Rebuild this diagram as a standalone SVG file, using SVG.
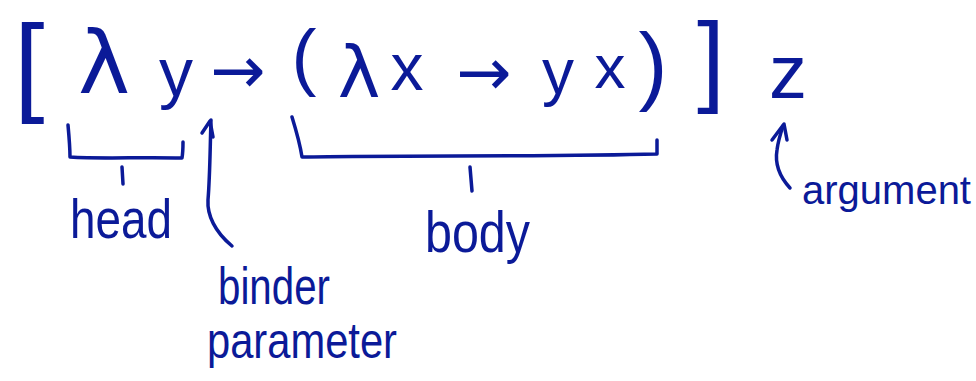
<svg xmlns="http://www.w3.org/2000/svg" width="976" height="381" viewBox="0 0 976 381">
  <style>
    .ink { fill: #0b1a98; font-family: "Liberation Sans", "DejaVu Sans", sans-serif; }
    .sym { fill: #0b1a98; font-family: "DejaVu Sans", "Liberation Sans", sans-serif; text-anchor: middle; }
    .stroke { fill: none; stroke: #0b1a98; stroke-width: 3.5; stroke-linecap: round; stroke-linejoin: round; }
  </style>
  <rect width="976" height="381" fill="#ffffff"/>

  <g id="formula">
    <text class="ink" x="14" y="101" font-size="110">[</text>
    <text class="sym" x="104" y="93" font-size="88">λ</text>
    <text class="ink" x="176" y="96" font-size="68" text-anchor="middle">y</text>
    <text class="sym" x="238" y="93" font-size="66">→</text>
    <text class="ink" x="304" y="82" font-size="75" text-anchor="middle">(</text>
    <text class="sym" x="359" y="97" font-size="72">λ</text>
    <text class="ink" x="407" y="90" font-size="66" text-anchor="middle">x</text>
    <text class="sym" x="484" y="95" font-size="66">→</text>
    <text class="ink" x="558" y="94" font-size="64" text-anchor="middle">y</text>
    <text class="ink" x="610" y="88" font-size="62" text-anchor="middle">x</text>
    <text class="ink" x="653" y="94" font-size="87" text-anchor="middle">)</text>
    <text class="ink" x="711" y="93" font-size="100" text-anchor="middle">]</text>
    <text class="ink" x="788" y="98" font-size="76" text-anchor="middle">z</text>
  </g>

  <g id="connectors">
    <!-- head brace -->
    <path class="stroke" d="M68,125 C69,136 70,148 70,157 C100,159 140,157 182,158 C183,152 183,147 183,142"/>
    <path class="stroke" d="M122,167 L123,184"/>
    <!-- binder arrow -->
    <path class="stroke" d="M232,246 C215,232 207,215 208,200 C210,175 210,150 211,120"/>
    <path class="stroke" d="M202,133 L210,121 L213,137"/>
    <!-- body brace -->
    <path class="stroke" d="M292,117 C296,130 300,144 302,157 C400,155 550,157 657,154 C657,149 657,145 657,140"/>
    <path class="stroke" d="M470,167 L472,191"/>
    <!-- argument arrow -->
    <path class="stroke" d="M790,188 C779,176 775,162 777,150 C778,142 780,135 783,126"/>
    <path class="stroke" d="M772,140 L784,124 L787,140"/>
  </g>

  <g id="head">
    <text class="ink" x="70" y="238" font-size="56" textLength="102" lengthAdjust="spacingAndGlyphs">head</text>
  </g>
  <g id="binder-parameter">
    <text class="ink" x="218" y="304" font-size="52" textLength="112" lengthAdjust="spacingAndGlyphs">binder</text>
    <text class="ink" x="207" y="358" font-size="50" textLength="190" lengthAdjust="spacingAndGlyphs">parameter</text>
  </g>
  <g id="body">
    <text class="ink" x="425" y="252" font-size="58" textLength="105" lengthAdjust="spacingAndGlyphs">body</text>
  </g>
  <g id="argument">
    <text class="ink" x="802" y="204" font-size="40">argument</text>
  </g>
</svg>
